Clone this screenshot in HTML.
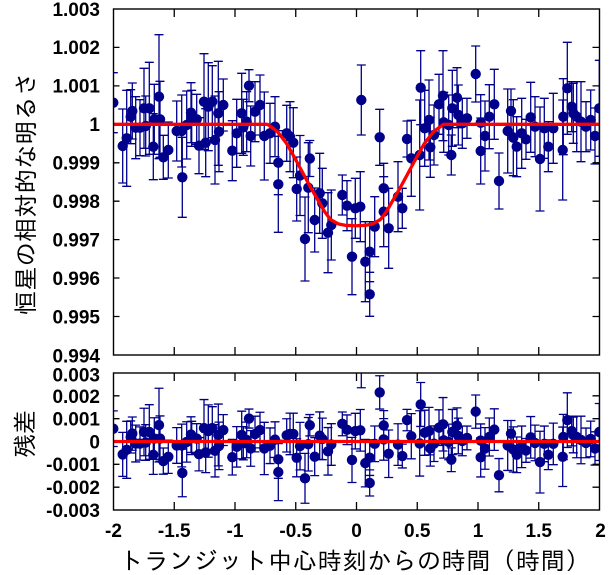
<!DOCTYPE html>
<html>
<head>
<meta charset="utf-8">
<style>
html,body{margin:0;padding:0;background:#fff;}
svg{display:block;}
.num{font-family:"Liberation Sans",Arial,sans-serif;font-weight:bold;font-size:19px;fill:#000;}
.jp{font-family:"Liberation Sans","IPAGothic","Noto Sans CJK JP",sans-serif;font-size:24px;fill:#000;}
</style>
</head>
<body>
<svg id="s" width="615" height="575" viewBox="0 0 615 575" xmlns="http://www.w3.org/2000/svg">
<rect width="615" height="575" fill="#fff"/>
<defs>
<clipPath id="ct"><rect x="113.5" y="9" width="486" height="346"/></clipPath>
<clipPath id="cb"><rect x="113.5" y="373" width="486" height="137"/></clipPath>
</defs>

<g id="gt" clip-path="url(#ct)"></g>
<g id="gb" clip-path="url(#cb)"></g>

<g stroke="#000" stroke-width="1.3" fill="none">
<path d="M113.5,47.4h6M113.5,85.9h6M113.5,124.3h6M113.5,162.8h6M113.5,201.2h6M113.5,239.6h6M113.5,278h6M113.5,316.5h6
M599.5,47.4h-7M599.5,85.9h-7M599.5,124.3h-7M599.5,162.8h-7M599.5,201.2h-7M599.5,239.6h-7M599.5,278h-7M599.5,316.5h-7
M174.25,9v8M235,9v8M295.75,9v8M356.5,9v8M417.25,9v8M478,9v8M538.75,9v8
M174.25,355v-8M235,355v-8M295.75,355v-8M356.5,355v-8M417.25,355v-8M478,355v-8M538.75,355v-8
M113.5,395.8h6M113.5,418.7h6M113.5,441.5h6M113.5,464.3h6M113.5,487.2h6
M599.5,395.8h-7M599.5,418.7h-7M599.5,441.5h-7M599.5,464.3h-7M599.5,487.2h-7
M174.25,373v8M235,373v8M295.75,373v8M356.5,373v8M417.25,373v8M478,373v8M538.75,373v8
M174.25,510v-8M235,510v-8M295.75,510v-8M356.5,510v-8M417.25,510v-8M478,510v-8M538.75,510v-8"/>
</g>

<g id="gm"></g>

<rect x="113.5" y="9" width="486" height="346" fill="none" stroke="#000" stroke-width="1.4"/>
<rect x="113.5" y="373" width="486" height="137" fill="none" stroke="#000" stroke-width="1.4"/>

<g class="num" text-anchor="end">
<text x="100" y="15.8">1.003</text>
<text x="100" y="54.2">1.002</text>
<text x="100" y="92.7">1.001</text>
<text x="100" y="131.1">1</text>
<text x="100" y="169.6">0.999</text>
<text x="100" y="208">0.998</text>
<text x="100" y="246.4">0.997</text>
<text x="100" y="284.8">0.996</text>
<text x="100" y="323.3">0.995</text>
<text x="100" y="362.6">0.994</text>
<text x="100" y="381.3">0.003</text>
<text x="100" y="403">0.002</text>
<text x="100" y="425.5">0.001</text>
<text x="100" y="448.3">0</text>
<text x="100" y="471.1">-0.001</text>
<text x="100" y="494">-0.002</text>
<text x="100" y="516.8">-0.003</text>
</g>

<g class="num" text-anchor="middle">
<text x="113.5" y="537">-2</text>
<text x="174.25" y="537">-1.5</text>
<text x="235" y="537">-1</text>
<text x="295.75" y="537">-0.5</text>
<text x="356.5" y="537">0</text>
<text x="417.25" y="537">0.5</text>
<text x="478" y="537">1</text>
<text x="538.75" y="537">1.5</text>
<text x="600.5" y="537">2</text>
</g>

<text class="jp" x="354.5" y="569.5" text-anchor="middle" textLength="470" lengthAdjust="spacing">トランジット中心時刻からの時間（時間）</text>
<text class="jp" transform="translate(34.5,193.5) rotate(-90)" text-anchor="middle" textLength="243" lengthAdjust="spacing">恒星の相対的な明るさ</text>
<text class="jp" transform="translate(33.5,434) rotate(-90)" text-anchor="middle">残差</text>
</svg>

<script>
(function(){
var P=[[113.3,102.7,30],[122.7,146,37],[126.7,138.3,48],[130.7,116.7,27],[132.3,111,28],[135.7,127.7,31],[140,127.7,28],[144,108.3,40],[145.7,126,30],[149.3,108.3,46],[153.3,146.7,33],[154.3,119.3,35],[159,96.7,62],[160,119.3,38],[163.3,157.3,22],[168.3,150,28],[176.7,131,30],[181.7,131,36],[182.3,177.3,40],[186.7,125,34],[191,112.7,30],[191.7,118.3,28],[196.7,119.3,25],[199,145.7,28],[204,101.7,48],[205.7,142.7,34],[208.3,106.7,44],[212.3,101.7,36],[215,140,44],[218.3,113.3,52],[219,131.7,40],[223.3,105,26],[232.3,150.7,30],[236.7,133.3,34],[241.7,113.3,40],[243.3,127.3,28],[246.7,121.7,30],[249,85.7,16],[250.7,136,30],[255,111.7,30],[260,105,30],[264.3,136,44],[270,133.3,30],[275,126.7,30],[278.3,162.7,32],[278.3,184.3,48],[286.7,133.3,28],[290,136.7,35],[293.3,142.7,35],[296.7,189,32],[300,175.5,40],[305,239,42],[308.3,187.7,45],[309.8,158.5,18],[314.7,220,32],[319.7,193.3,40],[322.3,203.3,35],[328,232.7,40],[331.3,225,35],[342.3,195,20],[347,205.7,25],[352,256.7,38],[355.3,208.3,30],[360.3,206.7,35],[361.3,100,35],[365.3,261.7,40],[369.7,251.7,30],[369.7,294.3,22],[374.7,226.7,30],[379.7,137.3,28],[383.7,188.3,25],[383.7,211.7,35],[388.7,228.3,40],[398,196.7,35],[402.3,208.3,20],[407,139,18],[411.3,158.3,38],[419.7,155,55],[420.7,87.7,37],[424.7,128.3,38],[429,120,40],[430.3,147.3,30],[434,135,30],[439,104.3,30],[443,95.7,45],[443.7,122.3,30],[448.7,125,30],[451.3,155,20],[452.3,108.3,38],[457,97.7,30],[458.3,115,30],[462.3,123.3,25],[467,118.3,20],[475.7,74,28],[480.7,122.7,28],[480.7,151,33],[485,136,35],[489.3,116.7,32],[494.3,104.3,35],[499,181,28],[507.7,131,42],[511,111,22],[513.3,137.7,38],[516.7,146.7,30],[521.7,133.3,35],[526,139.3,20],[530.7,117.3,35],[535,126.7,30],[540,159,52],[544.3,128.3,30],[548.3,146.7,25],[553.3,128.3,35],[562.7,150,50],[563.3,116.7,38],[567.3,88.3,46],[571.7,106.7,25],[573.3,113.3,30],[576.7,116.7,35],[581,121.7,40],[586,126.7,25],[590.7,120,30],[595,136,28],[599.3,108.3,48]];
var KD=[0,10,17,25,31,37,44,52.5,61,69,78,88];
var KY=[225.8,225.3,224,219.5,211.5,201,189,173.3,157.5,143.3,131.7,124.3];
function my(x){
  var d=Math.abs(x-355.5);
  if(d>=88) return 124.3;
  for(var i=0;i<KD.length-1;i++){
    if(d>=KD[i]&&d<=KD[i+1]){
      var f=(d-KD[i])/(KD[i+1]-KD[i]);
      return KY[i]+f*(KY[i+1]-KY[i]);
    }
  }
  return 124.3;
}
var C="#00008b";
function build(pts){
  var eb="",cs="";
  for(var i=0;i<pts.length;i++){
    var x=pts[i][0],y=pts[i][1],e=pts[i][2];
    eb+="M"+x.toFixed(2)+","+(y-e).toFixed(2)+"V"+(y+e).toFixed(2)+
        "M"+(x-4.5).toFixed(2)+","+(y-e).toFixed(2)+"h9"+
        "M"+(x-4.5).toFixed(2)+","+(y+e).toFixed(2)+"h9";
    cs+='<circle cx="'+x.toFixed(2)+'" cy="'+y.toFixed(2)+'" r="5.2" fill="'+C+'"/>';
  }
  return '<path d="'+eb+'" stroke="'+C+'" stroke-width="1.3" fill="none"/>'+cs;
}
var R=[];
for(var i=0;i<P.length;i++){
  var x=P[i][0],y=P[i][1],e=P[i][2];
  R.push([x,441.5+(y-my(x))*0.594,e*0.594]);
}
document.getElementById("gt").innerHTML=build(P);
document.getElementById("gb").innerHTML=build(R);
var d="M113.5,124.3";
for(var x=114;x<=599.5;x+=1){ d+="L"+x+","+my(x).toFixed(2); }
document.getElementById("gm").innerHTML=
 '<path d="'+d+'" stroke="#ff0000" stroke-width="3.3" fill="none" stroke-linejoin="round" clip-path="url(#ct)"/>'+
 '<path d="M113.5,441.5H599.5" stroke="#ff0000" stroke-width="3.3" fill="none"/>';
})();
</script>
</body>
</html>
